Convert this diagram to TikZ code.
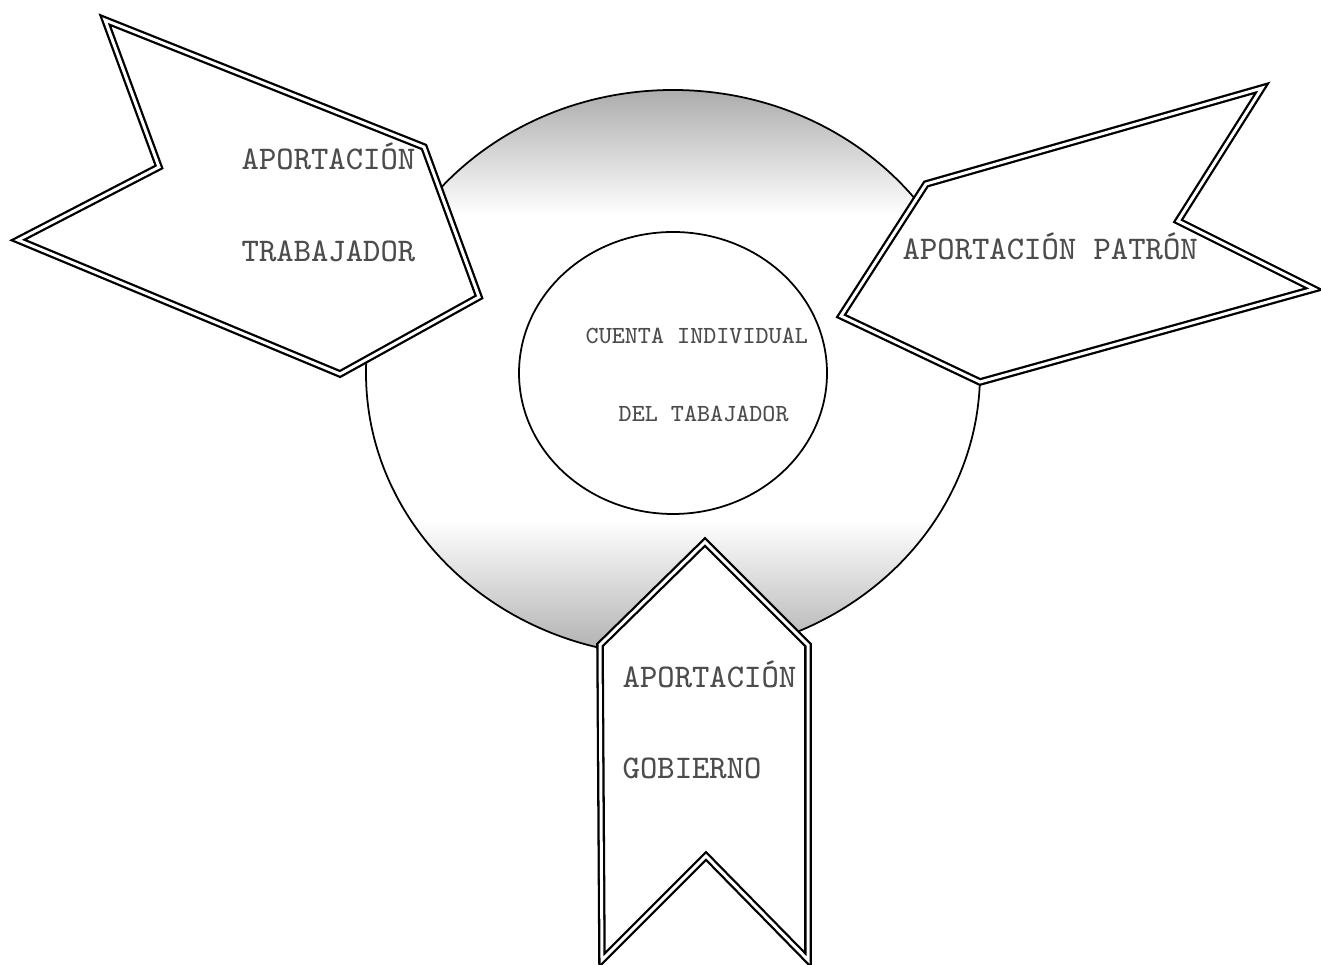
\documentclass[tikz,border=0pt]{standalone}
\usepackage{fontspec}

\begin{document}
\begin{tikzpicture}[x=0.01cm, y=-0.01cm,
	banner/.style={draw, double, double distance=0.85pt, line width=0.65pt, fill=white, line join=miter},
	tag/.style={text=black!70, font=\ttfamily\fontsize{9.4}{11}\selectfont, anchor=base west, inner sep=0pt},
	small tag/.style={tag, font=\ttfamily\fontsize{7}{9}\selectfont}]
	\useasboundingbox (0,0) rectangle (1321,965);
	% shaded ring
	\begin{scope}
		\clip (673,373) ellipse [x radius=307, y radius=283];
		\shade[top color=black!33, bottom color=white] (350,88) rectangle (1000,215);
		\shade[top color=white, bottom color=black!33] (350,520) rectangle (1000,662);
	\end{scope}
	\draw[line width=0.5pt] (673,373) ellipse [x radius=307, y radius=283];
	\draw[line width=0.5pt, fill=white] (673,373) ellipse [x radius=154, y radius=141];
	% arrows
	\draw[banner] (105,20) -- (159,167) -- (18,240) -- (340,374) -- (479,297) -- (424,147) -- cycle;
	\draw[banner] (926,184) -- (1262,88) -- (1178,221) -- (1314,289) -- (980,382) -- (841,316) -- cycle;
	\draw[banner] (705,542) -- (808,645) -- (808,960) -- (706,856) -- (602,960) -- (600,645) -- cycle;
	% labels
	\foreach \nm/\px/\py/\txt in {trab1/241/170/APORTACIÓN, trab2/241/262/TRABAJADOR, patron/902/260/APORTACIÓN PATRÓN, gob1/622/688/APORTACIÓN, gob2/622/779/GOBIERNO}
		\node[tag] (\nm) at (\px,\py) {\txt};
	\node[small tag] (cuenta1) at (585,344) {CUENTA INDIVIDUAL};
	\node[small tag] (cuenta2) at (618,422) {DEL TABAJADOR};
\end{tikzpicture}
\end{document}
